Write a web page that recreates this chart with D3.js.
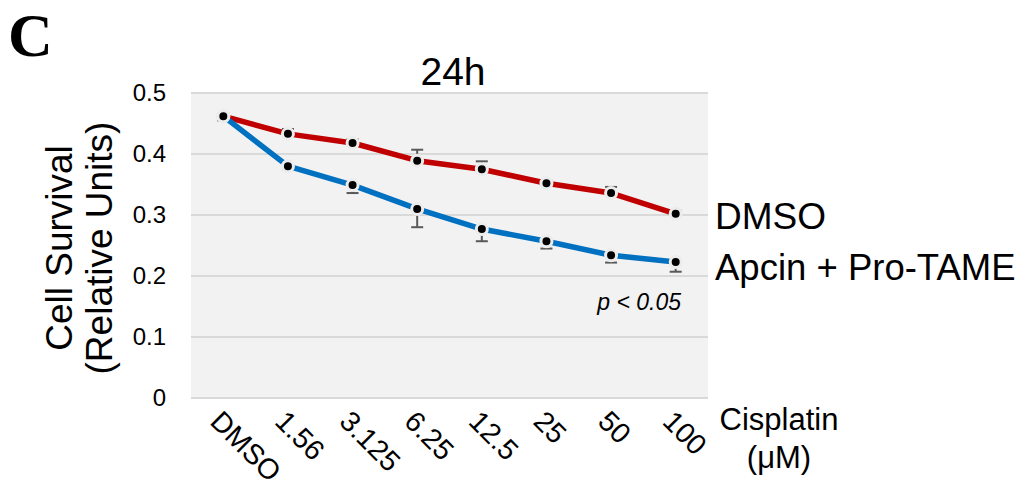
<!DOCTYPE html>
<html>
<head>
<meta charset="utf-8">
<script src="https://cdn.jsdelivr.net/npm/d3@7"></script>
<style>
  body { margin: 0; background: #fff; }
  text { font-family: Arial, "Liberation Sans", sans-serif; fill: #000; }
</style>
</head>
<body>
<div id="chart"></div>
<script>
var doses = ['DMSO', '1.56', '3.125', '6.25', '12.5', '25', '50', '100'];
var dmsoValues = [0.462, 0.433, 0.418, 0.389, 0.375, 0.352, 0.336, 0.302];
var dmsoErrors = [0.004, 0.008, 0.006, 0.018, 0.013, 0.004, 0.010, 0.005];
var comboValues = [0.462, 0.380, 0.349, 0.310, 0.277, 0.257, 0.234, 0.223];
var comboErrors = [0.007, 0.005, 0.013, 0.030, 0.020, 0.012, 0.012, 0.016];
var yTicks = [0, 0.1, 0.2, 0.3, 0.4, 0.5];

var width = 1028, height = 489;
var plot = { left: 191, right: 708, top: 93, bottom: 398 };

var svg = d3.select('#chart')
  .append('svg')
    .attr('width', width)
    .attr('height', height);

var x = d3.scalePoint()
  .domain(doses)
  .range([plot.left, plot.right])
  .padding(0.5);

var y = d3.scaleLinear()
  .domain([0, 0.5])
  .range([plot.bottom, plot.top]);

// plot background
svg.append('rect')
  .attr('x', plot.left)
  .attr('y', plot.top)
  .attr('width', plot.right - plot.left)
  .attr('height', plot.bottom - plot.top)
  .attr('fill', '#f2f2f2');

// gridlines
svg.selectAll('.grid')
  .data(yTicks)
  .enter().append('line')
    .attr('class', 'grid')
    .attr('x1', plot.left)
    .attr('x2', plot.right)
    .attr('y1', (d) => y(d))
    .attr('y2', (d) => y(d))
    .attr('stroke', '#d9d9d9')
    .attr('stroke-width', 2);

// y axis labels
var yAxis = d3.axisLeft(y)
  .tickValues(yTicks)
  .tickFormat((d) => d === 0 ? '0' : d3.format('.1f')(d))
  .tickSize(0)
  .tickPadding(25);

var yg = svg.append('g')
  .attr('transform', 'translate(' + plot.left + ',0)')
  .call(yAxis);
yg.select('.domain').remove();
yg.selectAll('text')
  .style('font-size', '24px')
  .style('font-family', 'Arial, "Liberation Sans", sans-serif');

// x axis labels, rotated
var xAxis = d3.axisBottom(x).tickSize(0).tickPadding(0);
var xg = svg.append('g')
  .attr('transform', 'translate(0,' + plot.bottom + ')')
  .call(xAxis);
xg.select('.domain').remove();
xg.selectAll('text')
  .style('font-size', '28.5px')
  .style('font-family', 'Arial, "Liberation Sans", sans-serif')
  .attr('text-anchor', 'start')
  .attr('dy', 0)
  .attr('transform', 'translate(-15,25) rotate(45)');

// error bars (DMSO up, combo down)
function errorBars(values, errors, dir, cls) {
  var g = svg.append('g').attr('class', cls);
  var data = doses.map((d, i) => ({ dose: d, v: values[i], e: errors[i] }));
  g.selectAll('line.bar')
    .data(data)
    .enter().append('line')
      .attr('x1', (d) => x(d.dose))
      .attr('x2', (d) => x(d.dose))
      .attr('y1', (d) => y(d.v))
      .attr('y2', (d) => y(d.v + dir * d.e))
      .attr('stroke', '#595959')
      .attr('stroke-width', 2);
  g.selectAll('line.cap')
    .data(data)
    .enter().append('line')
      .attr('x1', (d) => x(d.dose) - 6)
      .attr('x2', (d) => x(d.dose) + 6)
      .attr('y1', (d) => y(d.v + dir * d.e))
      .attr('y2', (d) => y(d.v + dir * d.e))
      .attr('stroke', '#595959')
      .attr('stroke-width', 2);
}
errorBars(dmsoValues, dmsoErrors, 1, 'err-dmso');
errorBars(comboValues, comboErrors, -1, 'err-combo');

var line = d3.line()
  .x((d, i) => x(doses[i]))
  .y((d) => y(d));

svg.append('path')
  .datum(dmsoValues)
  .attr('fill', 'none')
  .attr('stroke', '#c00000')
  .attr('stroke-width', 5.5)
  .attr('stroke-linejoin', 'round')
  .attr('d', line);

svg.append('path')
  .datum(comboValues)
  .attr('fill', 'none')
  .attr('stroke', '#0070c0')
  .attr('stroke-width', 5.5)
  .attr('stroke-linejoin', 'round')
  .attr('d', line);

function markers(values) {
  svg.append('g').selectAll('circle')
    .data(values)
    .enter().append('circle')
      .attr('cx', (d, i) => x(doses[i]))
      .attr('cy', (d) => y(d))
      .attr('r', 5.5)
      .attr('fill', '#000')
      .attr('stroke', '#ececec')
      .attr('stroke-width', 3);
}
markers(comboValues);
markers(dmsoValues);

// panel letter
svg.append('text')
  .attr('x', 8)
  .attr('y', 56)
  .style('font-family', '"Liberation Serif", "Times New Roman", serif')
  .style('font-weight', 'bold')
  .style('font-size', '62px')
  .text('C');

// title
svg.append('text')
  .attr('x', 453)
  .attr('y', 85)
  .attr('text-anchor', 'middle')
  .style('font-size', '39px')
  .text('24h');

// y title
var yt = svg.append('text')
  .attr('transform', 'translate(0,248) rotate(-90)')
  .attr('text-anchor', 'middle')
  .style('font-size', '37px');
yt.append('tspan').attr('x', 0).attr('y', 72).text('Cell Survival');
yt.append('tspan').attr('x', 0).attr('y', 112).text('(Relative Units)');

// series labels
svg.append('text')
  .attr('x', 715)
  .attr('y', 229)
  .style('font-size', '37px')
  .text('DMSO');
svg.append('text')
  .attr('x', 715)
  .attr('y', 280)
  .style('font-size', '36.5px')
  .text('Apcin + Pro-TAME');

// significance
svg.append('text')
  .attr('x', 681)
  .attr('y', 310)
  .attr('text-anchor', 'end')
  .style('font-size', '23px')
  .style('font-style', 'italic')
  .text('p < 0.05');

// x title
svg.append('text')
  .attr('x', 779)
  .attr('y', 430)
  .attr('text-anchor', 'middle')
  .style('font-size', '31px')
  .text('Cisplatin');
svg.append('text')
  .attr('x', 779)
  .attr('y', 468)
  .attr('text-anchor', 'middle')
  .style('font-size', '31px')
  .text('(\u03bcM)');
</script>
</body>
</html>
